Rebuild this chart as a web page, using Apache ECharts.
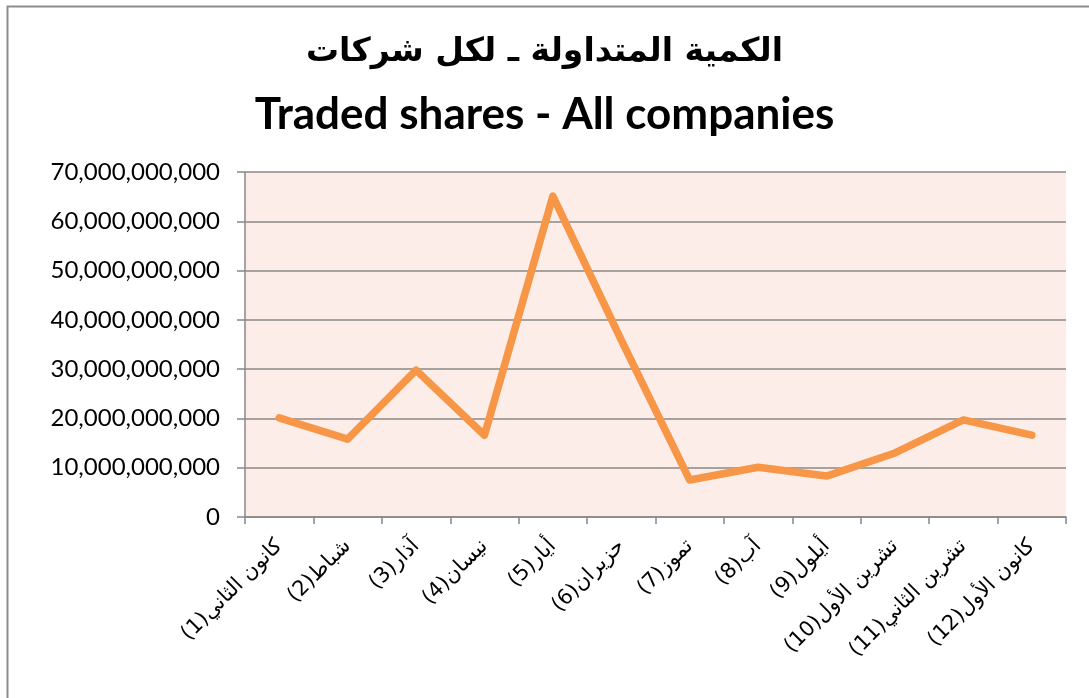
<!DOCTYPE html>
<html>
<head>
<meta charset="utf-8">
<style>
  html, body { margin: 0; padding: 0; background: #ffffff; }
  #chart { width: 1089px; height: 698px; }
</style>
<script src="https://cdn.jsdelivr.net/npm/echarts@6/dist/echarts.min.js"></script>
</head>
<body>
<div id="chart"></div>
<script>
// months (Arabic, Levantine names)
const months = [
  "كانون الثاني(1)", "شباط(2)", "آذار(3)", "نيسان(4)", "أيار(5)", "حزيران(6)",
  "تموز(7)", "آب(8)", "أيلول(9)", "تشرين الأول(10)", "تشرين الثاني(11)", "كانون الأول(12)"
];
// traded shares, all companies
const tradedShares = [
  20100000000, 15800000000, 29800000000, 16600000000, 65100000000, 35900000000,
  7500000000, 10100000000, 8300000000, 13000000000, 19700000000, 16600000000
];
const titleAr = "الكمية المتداولة ـ لكل شركات";
const titleEn = "Traded shares - All companies";

const chart = echarts.init(document.getElementById("chart"));

const gridColor = "#888888";

chart.setOption({
  backgroundColor: "#ffffff",
  animation: false,
  title: [
    {
      text: titleAr,
      left: "center",
      top: 31,
      textStyle: { fontFamily: "DejaVu Sans", fontSize: 33, fontWeight: "bold", color: "#000" }
    },
    {
      text: titleEn,
      left: "center",
      top: 88,
      textStyle: { fontFamily: "Lato", fontSize: 44, fontWeight: "bold", color: "#000" }
    }
  ],
  graphic: [
    {
      type: "rect",
      left: 5,
      top: 4,
      shape: { width: 1100, height: 710 },
      style: { fill: "none", stroke: "#8c8c8c", lineWidth: 2 },
      silent: true
    }
  ],
  grid: {
    left: 245,
    right: 23,
    top: 172,
    bottom: 181,
    show: true,
    backgroundColor: "#fcede8",
    borderWidth: 0
  },
  xAxis: {
    type: "category",
    data: months,
    boundaryGap: true,
    axisLine: { show: true, lineStyle: { color: gridColor, width: 1.5 } },
    axisTick: { show: true, length: 7, alignWithLabel: false, lineStyle: { color: gridColor, width: 1.5 } },
    axisLabel: {
      rotate: 45,
      interval: 0,
      margin: 26,
      fontFamily: "DejaVu Sans",
      fontSize: 21,
      color: "#000",
      // embed as RTL so the (n) suffix sits at the lower-left end
      formatter: v => "\u202B" + v + "\u202C"
    },
    splitLine: { show: false }
  },
  yAxis: {
    type: "value",
    min: 0,
    max: 70000000000,
    interval: 10000000000,
    axisLine: { show: true, lineStyle: { color: gridColor, width: 1.5 } },
    axisTick: { show: true, length: 8, lineStyle: { color: gridColor, width: 1.5 } },
    axisLabel: {
      margin: 25,
      fontFamily: "Lato",
      fontSize: 24,
      color: "#000",
      formatter: v => v.toLocaleString("en-US")
    },
    splitLine: { show: true, lineStyle: { color: gridColor, width: 1.5 } }
  },
  series: [
    {
      type: "line",
      data: tradedShares,
      symbol: "none",
      smooth: false,
      lineStyle: { color: "#f79646", width: 7.5, cap: "round", join: "round" },
      itemStyle: { color: "#f79646" }
    }
  ]
});
</script>
</body>
</html>
